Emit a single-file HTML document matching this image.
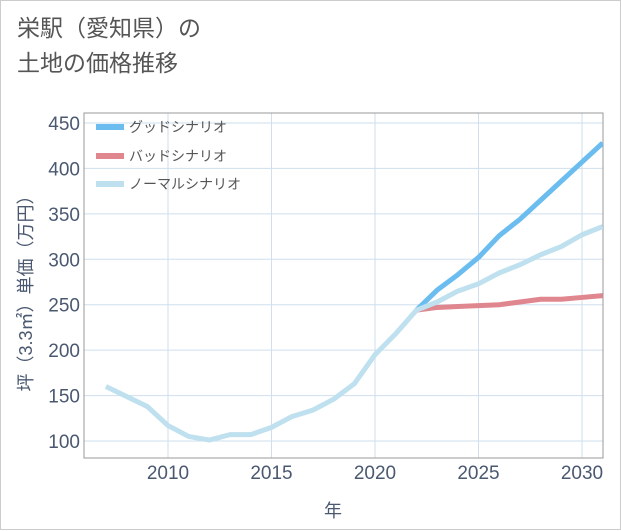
<!DOCTYPE html>
<html><head><meta charset="utf-8"><style>
body{margin:0;background:#fff;}
#wrap{position:relative;width:619px;height:528px;border:1px solid #ccc;background:#fff;font-family:"Liberation Sans","Noto Sans CJK JP",sans-serif;}
h1{position:absolute;left:16px;top:10px;margin:0;font-weight:normal;font-size:23px;line-height:35px;color:#555;}
svg{position:absolute;left:0;top:0;}
</style></head><body>
<div id="wrap">
<h1>栄駅（愛知県）の<br>土地の価格推移</h1>
<svg id="c" width="621" height="530"></svg>
</div>
<script>
const years=[2007,2008,2009,2010,2011,2012,2013,2014,2015,2016,2017,2018,2019,2020,2021,2022,2023,2024,2025,2026,2027,2028,2029,2030,2031];
const normal=[160,149,138,117,105,101,107,107,115,127,134,146,163,195,218,244,253,265,273,285,294,305,314,327,336];
const goodYears=[2022,2023,2024,2025,2026,2027,2028,2029,2030,2031];
const good=[244,266,283,302,326,344,365,386,407,428];
const bad=[244,247,248,249,250,253,256,256,258,260];
const yTicks=[100,150,200,250,300,350,400,450];
const xTicks=[2010,2015,2020,2025,2030];
const NS="http://www.w3.org/2000/svg";
const svg=document.getElementById('c');
const L=83,R=602,T=112,B=457;
const x=v=>167+(v-2010)*20.7;
const y=v=>440-(v-100)*318/350;
function mk(t,a){const e=document.createElementNS(NS,t);for(const k in a)e.setAttribute(k,a[k]);svg.appendChild(e);return e;}
yTicks.forEach(v=>{
 const g=mk('line',{x1:L,x2:R,y1:y(v),y2:y(v),stroke:'#cfdfee','stroke-width':1});
 
 
 const t=mk('text',{x:L-4,y:y(v)+7,'text-anchor':'end','font-size':19,fill:'#4a5870'});t.textContent=v;
 
 
});
xTicks.forEach(v=>{
 const g=mk('line',{x1:x(v),x2:x(v),y1:T,y2:B,stroke:'#cfdfee','stroke-width':1});
 
 
 const t=mk('text',{x:x(v),y:478,'text-anchor':'middle','font-size':19,fill:'#4a5870'});t.textContent=v;
 
 
});
const fr=mk('rect',{x:L,y:T,width:R-L,height:B-T,fill:'none',stroke:'#999','stroke-width':1});


const clip=mk('clipPath',{id:'cl'});const cr=document.createElementNS(NS,'rect');
cr.setAttribute('x',L);cr.setAttribute('y',T);cr.setAttribute('width',R-L);cr.setAttribute('height',B-T);clip.appendChild(cr);
function line(xs,vs,col,name){
 const p=mk('polyline',{points:xs.map((X,i)=>x(X)+','+y(vs[i])).join(' '),fill:'none',stroke:col,'stroke-width':5,'stroke-linejoin':'round','clip-path':'url(#cl)'});
 
 
}
line(goodYears,good,'#6bbdf0','good-scenario-line');
line(goodYears,bad,'#e0868e','bad-scenario-line');
line(years,normal,'#bfe0ee','normal-scenario-line');
[['グッドシナリオ','#6bbdf0',126],['バッドシナリオ','#e0868e',155],['ノーマルシナリオ','#bfe0ee',183]].forEach(([n,c,yy])=>{
 const l=mk('line',{x1:95,x2:123,y1:yy,y2:yy,stroke:c,'stroke-width':6});
 
 
 const t=mk('text',{x:128,y:yy+5,'font-size':14,fill:'#555'});t.textContent=n;
 
 
});
const xt=mk('text',{x:332,y:516,'text-anchor':'middle','font-size':18,fill:'#4a5870'});xt.textContent='年';


const yt=mk('text',{x:0,y:0,'text-anchor':'middle','font-size':18,fill:'#4a5870',transform:'translate(31,288) rotate(-90)'});yt.textContent='坪（3.3㎡）単価（万円）';


</script>
</body></html>
